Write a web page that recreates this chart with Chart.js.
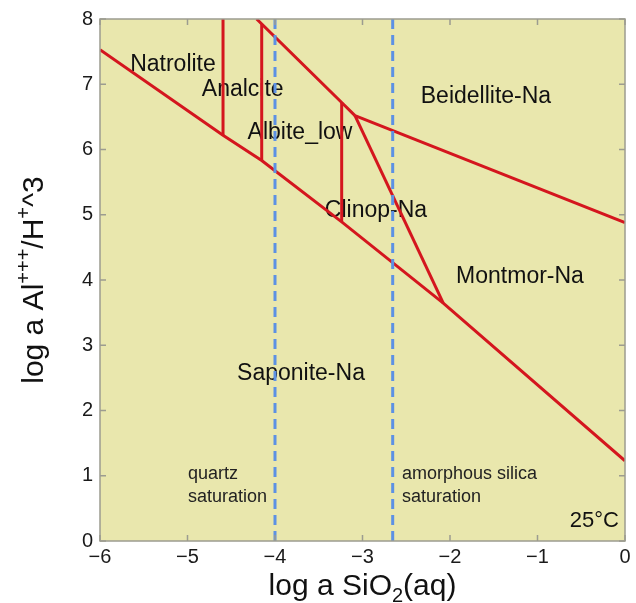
<!DOCTYPE html>
<html lang="en">
<head>
    <meta charset="UTF-8">
    <title>Activity diagram Na2O-Al2O3-SiO2-H2O, 25°C</title>
    <script src="https://cdn.jsdelivr.net/npm/chart.js"></script>
    <style>
        html, body { margin: 0; padding: 0; background: #ffffff; }
        #diagram { display: block; }
    </style>
</head>
<body>
    <canvas id="diagram" width="636" height="603"></canvas>
    <script>
        // axis ticks
        const xTicks = [-6, -5, -4, -3, -2, -1, 0];
        const yTicks = [0, 1, 2, 3, 4, 5, 6, 7, 8];

        // phase boundaries (log a SiO2, log a Al+++/H+^3)
        const saponiteX = [-6, -4.594, -4.152, -3.238, -2.077, 0];
        const saponiteY = [7.53, 6.22, 5.83, 4.89, 3.645, 1.23];
        const natroAnalX = [-4.594, -4.594];
        const natroAnalY = [6.22, 8];
        const analAlbX = [-4.152, -4.152];
        const analAlbY = [5.83, 7.92];
        const beidUpperX = [-4.21, -3.238, -3.086];
        const beidUpperY = [8, 6.72, 6.52];
        const albClinX = [-3.238, -3.238];
        const albClinY = [4.89, 6.72];
        const beidMontX = [-3.086, 0];
        const beidMontY = [6.52, 4.88];
        const clinMontX = [-3.086, -2.077];
        const clinMontY = [6.52, 3.645];

        // saturation lines
        const quartzSat = -4.0;
        const amorphSat = -2.655;

        // field names
        const fieldNames = ['Natrolite', 'Analcite', 'Albite_low', 'Beidellite-Na', 'Clinop-Na', 'Montmor-Na', 'Saponite-Na'];
        const fieldX = [-5.166, -4.369, -3.714, -1.589, -2.846, -1.2, -3.703];
        const fieldY = [7.30, 6.92, 6.26, 6.81, 5.06, 4.05, 2.56];

        const FONT = '"Liberation Sans", Arial, Helvetica, sans-serif';
        const RED = 'rgb(212, 22, 30)';
        const BLUE = 'rgb(92, 145, 228)';

        function pts(xs, ys) {
            return xs.map((x, i) => ({ x: x, y: ys[i] }));
        }

        function boundary(xs, ys) {
            return {
                data: pts(xs, ys),
                showLine: true,
                borderColor: RED,
                borderWidth: 3,
                pointRadius: 0,
                fill: false
            };
        }

        function satLine(x) {
            return {
                data: pts([x, x], [0, 8]),
                showLine: true,
                borderColor: BLUE,
                borderWidth: 3,
                borderDash: [10, 6],
                pointRadius: 0,
                fill: false
            };
        }

        const minus = v => (v < 0 ? '\u2212' + Math.abs(v) : String(v));

        // text with sub/superscript pieces
        function richWidth(ctx, segs, size) {
            let w = 0;
            segs.forEach(s => {
                ctx.font = ((s.sub || s.sup) ? Math.round(size * 0.65) : size) + 'px ' + FONT;
                w += ctx.measureText(s.t).width;
            });
            return w;
        }

        function drawRich(ctx, segs, cx, baseline, size) {
            let x = cx - richWidth(ctx, segs, size) / 2;
            ctx.textAlign = 'left';
            ctx.textBaseline = 'alphabetic';
            segs.forEach(s => {
                let dy = 0;
                if (s.sub) dy = size * 0.22;
                if (s.sup) dy = -size * 0.45;
                ctx.font = ((s.sub || s.sup) ? Math.round(size * 0.65) : size) + 'px ' + FONT;
                ctx.fillText(s.t, x, baseline + dy);
                x += ctx.measureText(s.t).width;
            });
        }

        const plotDecor = {
            id: 'plotDecor',
            beforeDraw(chart) {
                const { ctx, chartArea: a } = chart;
                ctx.save();
                ctx.fillStyle = '#e9e7ad';
                ctx.fillRect(a.left, a.top, a.right - a.left, a.bottom - a.top);
                ctx.restore();
            },
            beforeDatasetsDraw(chart) {
                const { ctx, scales } = chart;
                const sx = scales.x, sy = scales.y;
                ctx.save();
                ctx.fillStyle = '#111111';
                ctx.textBaseline = 'middle';
                ctx.textAlign = 'center';
                ctx.font = '23px ' + FONT;
                fieldNames.forEach((n, i) => {
                    ctx.fillText(n, sx.getPixelForValue(fieldX[i]), sy.getPixelForValue(fieldY[i]));
                });
                ctx.textAlign = 'left';
                ctx.font = '18px ' + FONT;
                ctx.fillStyle = '#222222';
                ctx.fillText('quartz', sx.getPixelForValue(-4.994), sy.getPixelForValue(1.02));
                ctx.fillText('saturation', sx.getPixelForValue(-4.994), sy.getPixelForValue(0.67));
                ctx.fillText('amorphous silica', sx.getPixelForValue(-2.549), sy.getPixelForValue(1.03));
                ctx.fillText('saturation', sx.getPixelForValue(-2.549), sy.getPixelForValue(0.67));
                ctx.textAlign = 'right';
                ctx.font = '22px ' + FONT;
                ctx.fillStyle = '#111111';
                ctx.fillText('25°C', sx.getPixelForValue(-0.069), sy.getPixelForValue(0.30));
                ctx.restore();
            },
            afterDraw(chart) {
                const { ctx, chartArea: a, scales } = chart;
                ctx.save();
                // frame
                ctx.strokeStyle = '#9c9c90';
                ctx.lineWidth = 1.5;
                ctx.strokeRect(a.left, a.top, a.right - a.left, a.bottom - a.top);
                // inward ticks on all four sides
                ctx.beginPath();
                xTicks.forEach(v => {
                    const px = scales.x.getPixelForValue(v);
                    ctx.moveTo(px, a.bottom); ctx.lineTo(px, a.bottom - 6);
                    ctx.moveTo(px, a.top); ctx.lineTo(px, a.top + 6);
                });
                yTicks.forEach(v => {
                    const py = scales.y.getPixelForValue(v);
                    ctx.moveTo(a.left, py); ctx.lineTo(a.left + 6, py);
                    ctx.moveTo(a.right, py); ctx.lineTo(a.right - 6, py);
                });
                ctx.stroke();

                // axis titles
                ctx.fillStyle = '#111111';
                drawRich(ctx, [{ t: 'log a SiO' }, { t: '2', sub: true }, { t: '(aq)' }],
                    (a.left + a.right) / 2, 595, 30);
                ctx.translate(43, (a.top + a.bottom) / 2);
                ctx.rotate(-Math.PI / 2);
                drawRich(ctx, [{ t: 'log a Al' }, { t: '+++', sup: true }, { t: '/H' }, { t: '+', sup: true }, { t: '^3' }],
                    0, 0, 30);
                ctx.restore();
            }
        };

        const ctx = document.getElementById('diagram').getContext('2d');
        const diagram = new Chart(ctx, {
            type: 'scatter',
            data: {
                datasets: [
                    satLine(quartzSat),
                    satLine(amorphSat),
                    boundary(saponiteX, saponiteY),
                    boundary(natroAnalX, natroAnalY),
                    boundary(analAlbX, analAlbY),
                    boundary(beidUpperX, beidUpperY),
                    boundary(albClinX, albClinY),
                    boundary(beidMontX, beidMontY),
                    boundary(clinMontX, clinMontY)
                ]
            },
            options: {
                responsive: false,
                animation: false,
                layout: { padding: { left: 0, right: 11, top: 16, bottom: 0 } },
                plugins: {
                    legend: { display: false },
                    tooltip: { enabled: false }
                },
                elements: { line: { tension: 0, borderCapStyle: 'butt' } },
                scales: {
                    x: {
                        type: 'linear',
                        min: -6,
                        max: 0,
                        afterFit: s => { s.height = 62; },
                        afterBuildTicks: s => { s.ticks = xTicks.map(v => ({ value: v })); },
                        grid: { display: false, drawTicks: false },
                        border: { display: false },
                        ticks: {
                            padding: 4,
                            color: '#1a1a1a',
                            font: { family: FONT, size: 20 },
                            maxRotation: 0,
                            callback: minus
                        }
                    },
                    y: {
                        type: 'linear',
                        min: 0,
                        max: 8,
                        afterFit: s => { s.width = 100; },
                        afterBuildTicks: s => { s.ticks = yTicks.map(v => ({ value: v })); },
                        grid: { display: false, drawTicks: false },
                        border: { display: false },
                        ticks: {
                            padding: 7,
                            color: '#1a1a1a',
                            font: { family: FONT, size: 20 },
                            callback: minus
                        }
                    }
                }
            },
            plugins: [plotDecor]
        });
    </script>
</body>
</html>
